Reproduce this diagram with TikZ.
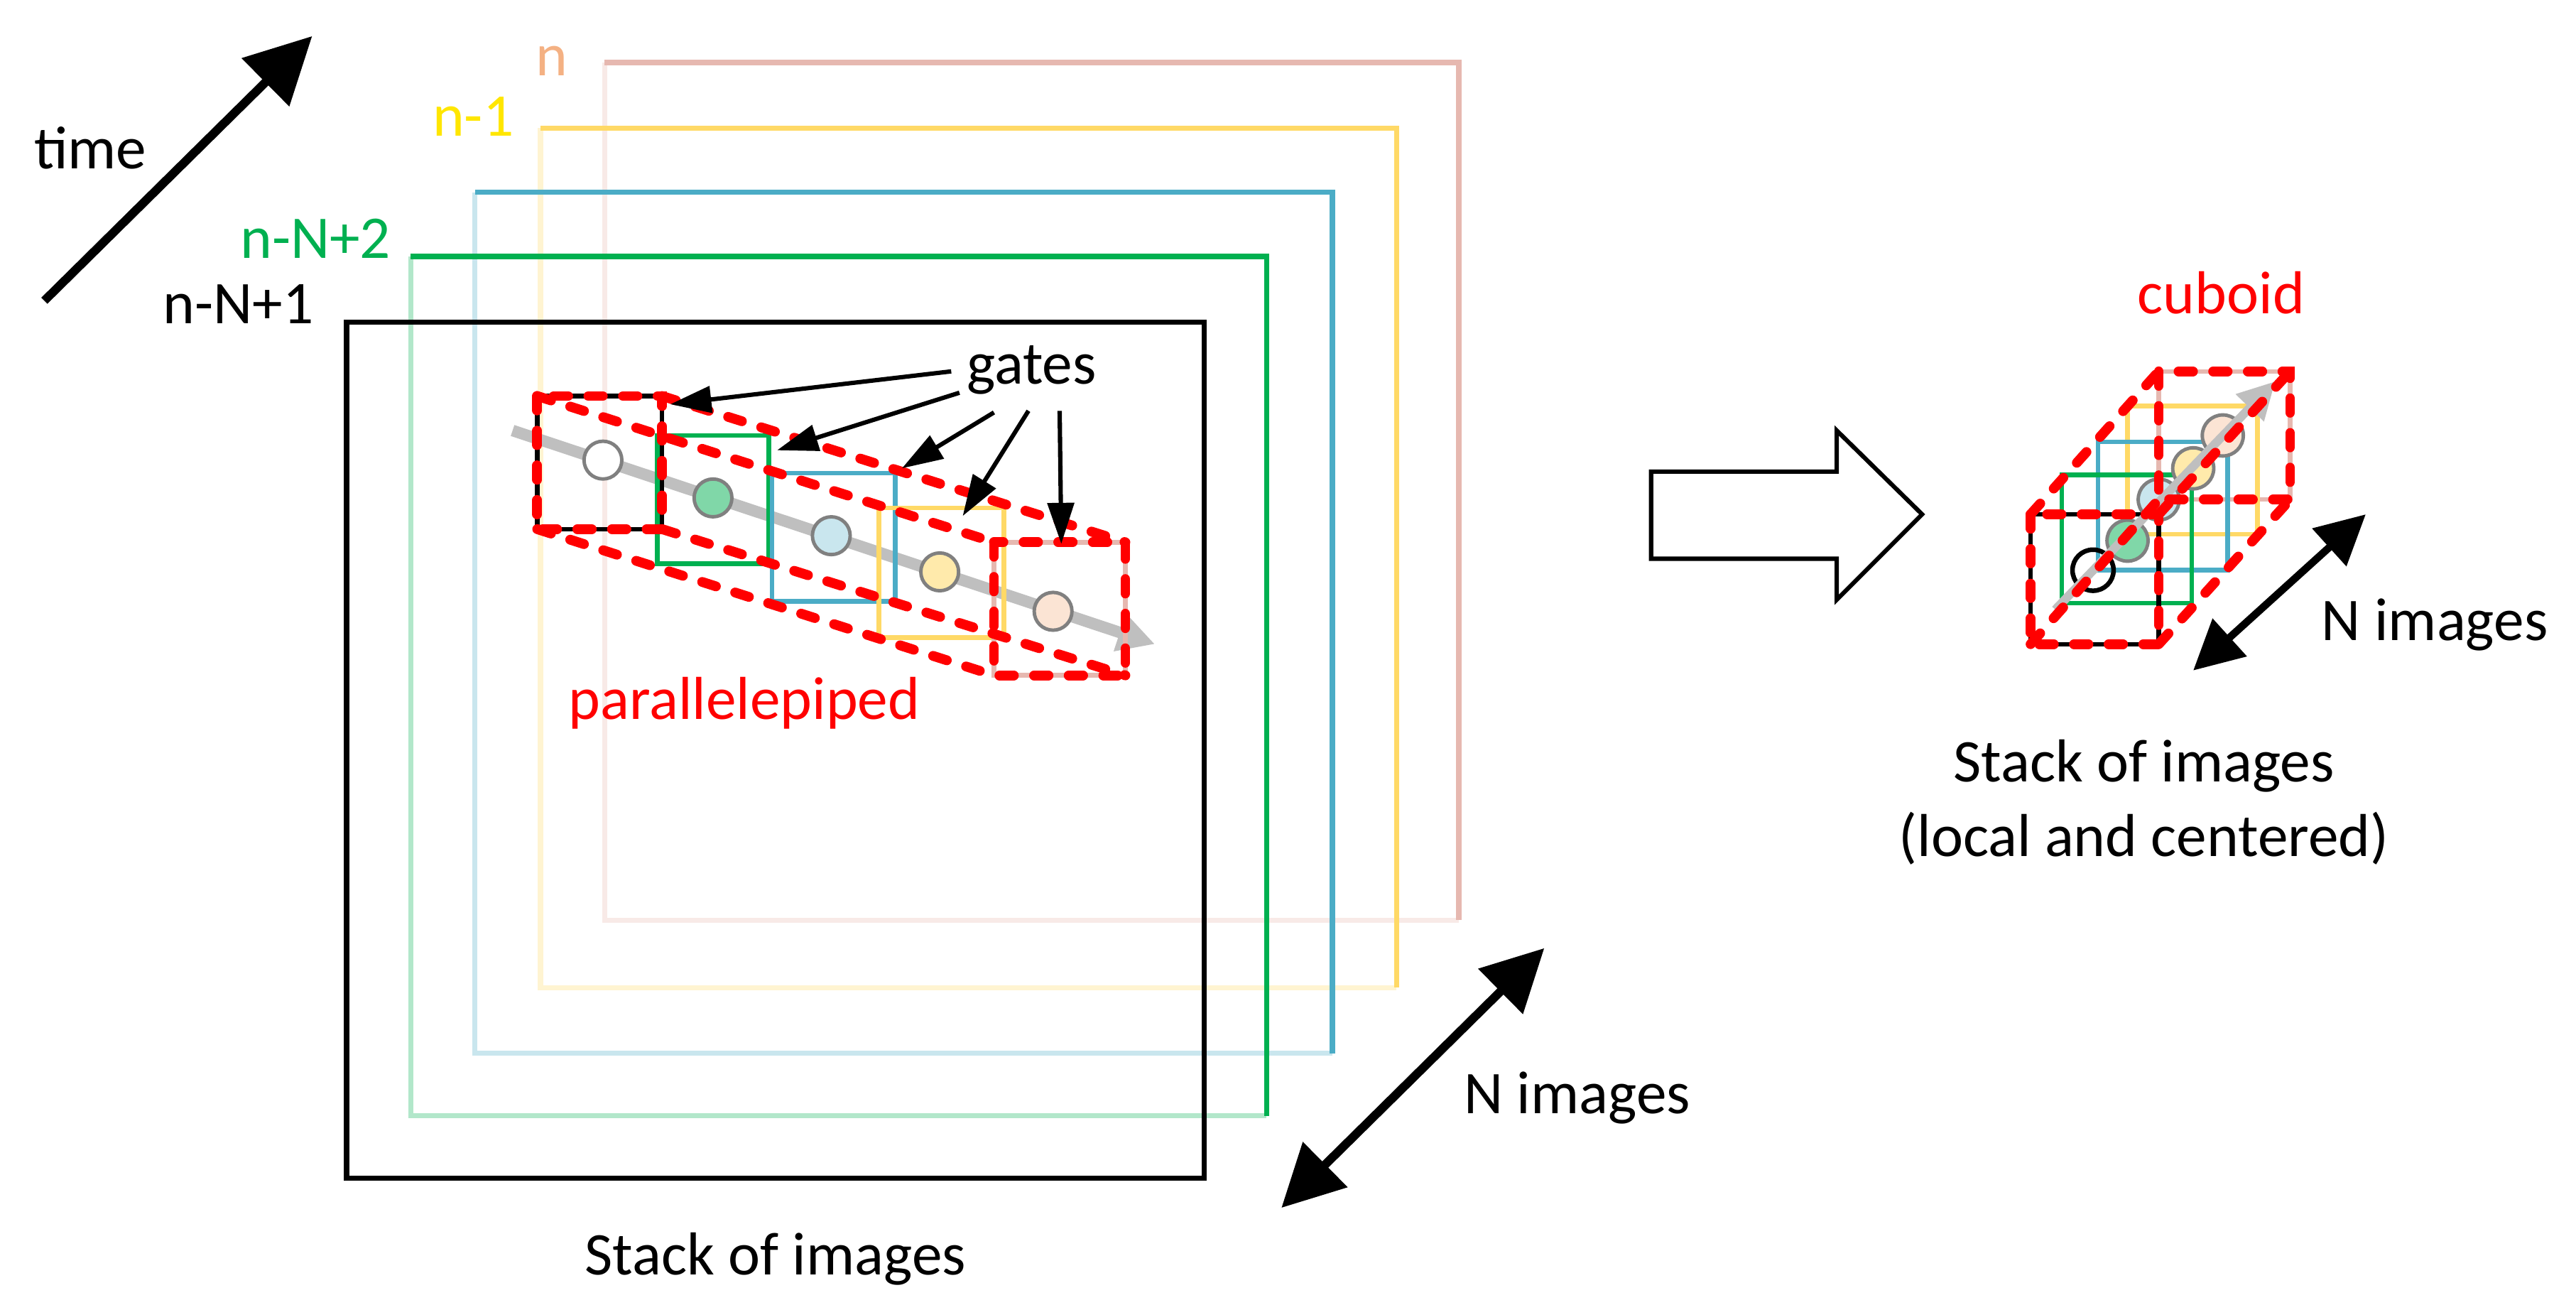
\documentclass[tikz,border=0pt]{standalone}
\usepackage{fontspec}
\setmainfont{Carlito}
\usetikzlibrary{arrows.meta}
\definecolor{cpink}{HTML}{E6B8B0}
\definecolor{cyel}{HTML}{FFD966}
\definecolor{cblue}{HTML}{4BACC6}
\definecolor{cgreen}{HTML}{00B050}
\definecolor{corange}{HTML}{F4B183}
\definecolor{lbl}{HTML}{FFE600}
\definecolor{cred}{HTML}{FF0000}
\begin{document}
\begin{tikzpicture}[x=0.02cm,y=-0.02cm,
  txt/.style={font=\fontsize{21}{25}\selectfont,inner sep=0pt},
  frame/.style={line width=1.8pt},
  sframe/.style={line width=1.6pt},
  red/.style={draw=cred,line width=3.4pt,line cap=round,dash pattern=on 5pt off 7pt},
  big/.style={line width=3pt,{Triangle[length=0.75cm,width=0.75cm]}-{Triangle[length=0.75cm,width=0.75cm]}},
  gate/.style={line width=1.5pt,-{Triangle[length=0.5cm,width=0.32cm]}},
  dot/.style={circle,draw=gray,line width=1.2pt,minimum size=0.46cm,inner sep=0pt},
  garrow/.style={draw=black!25,line width=4pt,-{Triangle[length=0.45cm,width=0.45cm]}}]
\useasboundingbox (0,0) rectangle (1568,794);
% large frames (back to front)
\foreach \x/\y/\w/\c in {368/38/520/cpink,329/78/521/cyel,289/117/522/cblue,250/156/521/cgreen}{
  \draw[frame,\c!30] (\x,\y) -- (\x,\y+\w+2) -- (\x+\w,\y+\w+2);
  \draw[frame,\c] (\x,\y) -- (\x+\w,\y) -- (\x+\w,\y+\w+2);
}
\draw[frame,black] (211,196) rectangle (733,717);
% labels
\node[txt,text=corange] (ln) at (336,37) {n};
\node[txt,text=lbl] (ln1) at (288,71) {n-1};
\node[txt,text=cgreen] (ln2) at (192,145) {n-N+2};
\node[txt] (ln3) at (145,185) {n-N+1};
\node[txt] (time) at (55,90) {time};
\coordinate (t0) at (27,183); \coordinate (t1) at (190,22);
\draw[line width=3pt,-{Triangle[length=0.8cm,width=0.8cm]}] (t0) -- (t1);
% gray arrow
\coordinate (g0) at (312,262); \coordinate (g1) at (703,392);
\draw[garrow] (g0) -- (g1);
% small boxes
\draw[sframe,black] (327,241) rectangle (403,322);
\draw[sframe,cgreen] (400,265) rectangle (468,343);
\draw[sframe,cblue] (470,288) rectangle (545,366);
\draw[sframe,cyel] (535,309) rectangle (611,388);
\draw[sframe,cpink] (605,330) rectangle (685,411);
\node[dot,fill=white] (c1) at (367,280) {};
\node[dot,fill=cgreen!50] (c2) at (434,303) {};
\node[dot,fill=cblue!30] (c3) at (506,326) {};
\node[dot,fill=cyel!55] (c4) at (572,348) {};
\node[dot,fill=corange!35] (c5) at (641,372) {};
% parallelepiped
\draw[red] (327,241) rectangle (403,322);
\draw[red] (605,330) rectangle (685,411);
\draw[red] (327,241) -- (605,330);
\draw[red] (403,241) -- (685,330);
\draw[red] (327,322) -- (605,411);
\draw[red] (403,322) -- (685,411);
\node[txt,text=cred] (par) at (453,428) {parallelepiped};
% gates
\node[txt] (gates) at (628,225) {gates};
\coordinate (e1) at (408,246); \coordinate (e2) at (473,274);
\coordinate (e3) at (549,285); \coordinate (e4) at (586,314); \coordinate (e5) at (646,331);
\draw[gate] (579,226) -- (e1);
\draw[gate] (584,239) -- (e2);
\draw[gate] (605,251) -- (e3);
\draw[gate] (626,250) -- (e4);
\draw[gate] (645,250) -- (e5);
\node[txt] (st1) at (472,766) {Stack of images};
\coordinate (n0) at (780,735); \coordinate (n1) at (940,577);
\draw[big] (n0) -- (n1);
\node[txt] (ni1) at (960,668) {N images};
% hollow arrow
\draw[line width=1.5pt,fill=white] (1005,287) -- (1118,287) -- (1118,262) -- (1170,313) -- (1118,365) -- (1118,340) -- (1005,340) -- cycle;
% cuboid
\draw[sframe,cpink] (1314,226) rectangle (1394,304);
\draw[sframe,cyel] (1295,247) rectangle (1374,325);
\draw[sframe,cblue] (1277,269) rectangle (1356,347);
\draw[sframe,cgreen] (1255,289) rectangle (1334,367);
\draw[sframe,black] (1236,313) rectangle (1314,392);
\node[dot,fill=corange!35,minimum size=0.5cm] (d5) at (1353,265) {};
\node[dot,fill=cyel!55,minimum size=0.5cm] (d4) at (1335,285) {};
\node[dot,fill=cblue!30,minimum size=0.5cm] (d3) at (1314,304) {};
\node[dot,fill=cgreen!50,minimum size=0.5cm] (d2) at (1295,329) {};
\node[circle,draw=black,line width=1.6pt,minimum size=0.5cm,inner sep=0pt] (d1) at (1274,347) {};
\coordinate (h0) at (1251,371); \coordinate (h1) at (1385,232);
\draw[garrow,line width=3pt] (h0) -- (h1);
\draw[red] (1236,313) rectangle (1314,392);
\draw[red] (1314,226) rectangle (1394,304);
\draw[red] (1236,313) -- (1314,226);
\draw[red] (1314,313) -- (1394,226);
\draw[red] (1236,392) -- (1314,304);
\draw[red] (1314,392) -- (1394,304);
\node[txt,text=cred] (cub) at (1352,178) {cuboid};
\coordinate (m0) at (1335,408); \coordinate (m1) at (1440,313);
\draw[big,line width=2.6pt,{Triangle[length=0.6cm,width=0.6cm]}-{Triangle[length=0.6cm,width=0.6cm]}] (m0) -- (m1);
\node[txt] (ni2) at (1482,380) {N images};
\node[txt] (st2) at (1305,466) {Stack of images};
\node[txt] (st3) at (1305,510) {(local and centered)};
\end{tikzpicture}
\end{document}
